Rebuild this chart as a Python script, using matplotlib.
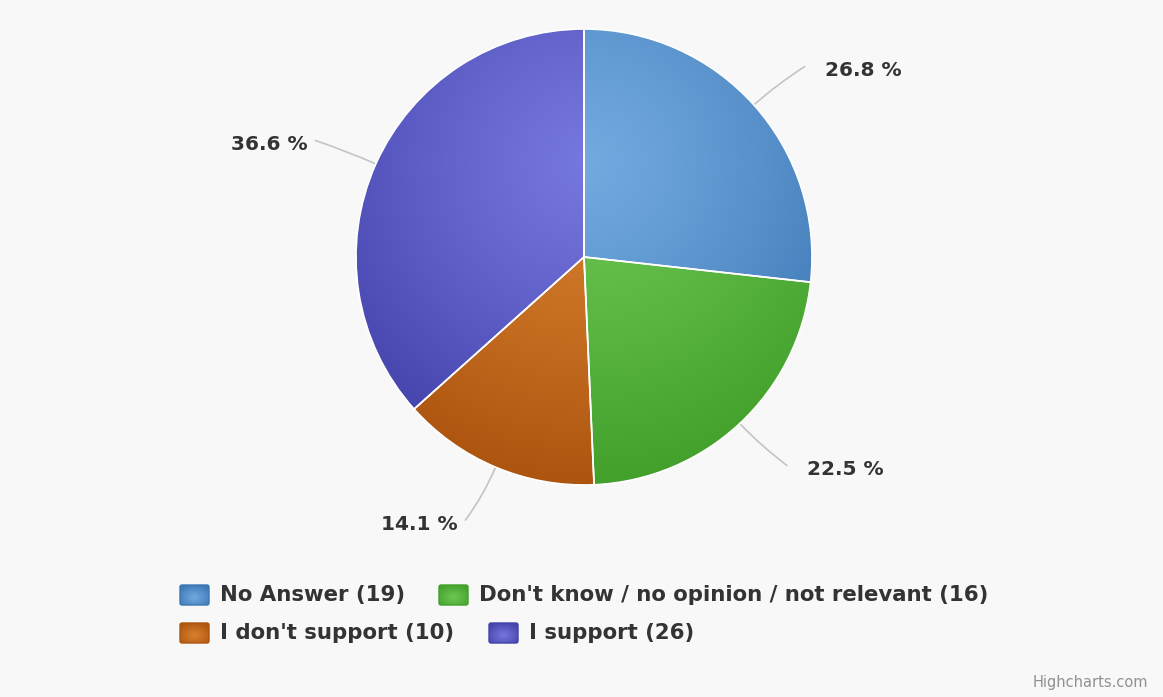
import matplotlib
matplotlib.use('Agg')
import matplotlib.pyplot as plt
import numpy as np
from matplotlib.patches import FancyBboxPatch, PathPatch
from matplotlib.path import Path

labels = ["No Answer", "Don't know / no opinion / not relevant", "I don't support", "I support"]
counts = [19, 16, 10, 26]

# light (centre) and dark (rim) shade for each slice
light = ['#72a9df', '#6ec653', '#d9812f', '#7676df']
dark = ['#3b76b4', '#42a02b', '#ad550f', '#4242aa']

W, H = 1163, 697
BG = '#f8f8f8'
cx, cy, R = 584, H - 257, 228

fig = plt.figure(figsize=(W / 100, H / 100), dpi=100, facecolor=BG)
ax = fig.add_axes([0, 0, 1, 1])
ax.set_facecolor(BG)

wedges, _ = ax.pie(counts, startangle=90, counterclock=False, center=(cx, cy), radius=R,
                   colors=['none'] * 4,
                   wedgeprops={'edgecolor': 'white', 'linewidth': 1.2, 'zorder': 3})
ax.axis('off')


def shade(c0, c1, t):
    a = np.array(matplotlib.colors.to_rgb(c0))
    b = np.array(matplotlib.colors.to_rgb(c1))
    return a * (1 - t) + b * t


# radial shading shared by all slices, brightest just above the centre
gx, gy = cx + 4, cy + 95
xs = np.linspace(cx - R, cx + R, 460)
ys = np.linspace(cy - R, cy + R, 460)
XX, YY = np.meshgrid(xs, ys)
t = np.clip(np.hypot(XX - gx, YY - gy) / 320.0, 0, 1)[..., None] ** 1.2

for w, c0, c1 in zip(wedges, light, dark):
    im = ax.imshow(shade(c0, c1, t), extent=(xs[0], xs[-1], ys[0], ys[-1]), origin='lower',
                   interpolation='bilinear', zorder=2)
    im.set_clip_path(w)

# percentage labels with curved connectors
total = sum(counts)
for w, n in zip(wedges, counts):
    mid = np.deg2rad((w.theta1 + w.theta2) / 2)
    dx, dy = np.cos(mid), np.sin(mid)
    side = 1 if dx >= 0 else -1
    p0 = (cx + R * dx, cy + R * dy)
    p1 = (cx + (R + 30) * dx, cy + (R + 30) * dy)
    p2 = (cx + (R + 58) * dx + side * 8, cy + (R + 58) * dy)
    path = Path([p0, p1, p2], [Path.MOVETO, Path.CURVE3, Path.CURVE3])
    ax.add_patch(PathPatch(path, facecolor='none', edgecolor='#c4c4c4', lw=1.2, zorder=1))
    gap = 20 if side > 0 else 7
    ax.text(p2[0] + side * gap, p2[1] - 4, f"{n / total * 100:.1f} %",
            ha='left' if side > 0 else 'right', va='center',
            fontsize=14.5, fontweight='bold', color='#333333')

# legend
sym_x = [179, 438, 179, 488]
row_y = [595, 595, 633, 633]
gs = np.linspace(-1, 1, 40)
GX, GY = np.meshgrid(gs, gs)
tg = np.clip(np.hypot(GX, GY + 0.2) / 1.3, 0, 1)[..., None]
for lx, ly, lab, n, c0, c1 in zip(sym_x, row_y, labels, counts, light, dark):
    y = H - ly
    box = FancyBboxPatch((lx + 1, y - 10), 29, 20, boxstyle='round,pad=0,rounding_size=2',
                         facecolor='none', edgecolor=c1, lw=1, zorder=4)
    ax.add_patch(box)
    im = ax.imshow(shade(c0, c1, tg), extent=(lx, lx + 31, y - 11, y + 10.5), origin='lower',
                   interpolation='bilinear', zorder=3)
    im.set_clip_path(box)
    ax.text(lx + 41, y, f"{lab} ({n})", ha='left', va='center',
            fontsize=15.3, fontweight='bold', color='#333333')

ax.text(1148, H - 682, "Highcharts.com", ha='right', va='center', fontsize=10.5, color='#909090')

ax.set_xlim(0, W)
ax.set_ylim(0, H)

fig.savefig('out.png', dpi=100, facecolor=BG)
